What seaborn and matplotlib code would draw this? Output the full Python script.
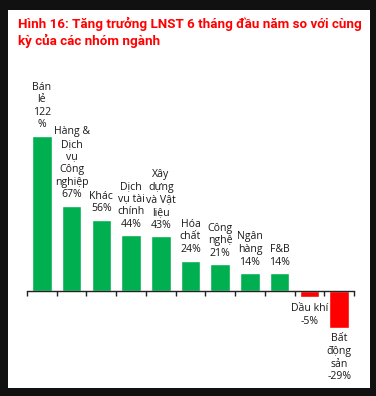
import matplotlib
matplotlib.use("Agg")
import matplotlib.pyplot as plt
import seaborn as sns
import numpy as np
import pandas as pd
from matplotlib.patches import Rectangle

categories = ["Bán lẻ", "Hàng & Dịch vụ Công nghiệp", "Khác", "Dịch vụ tài chính",
              "Xây dựng và Vật liệu", "Hóa chất", "Công nghệ", "Ngân hàng", "F&B",
              "Dầu khí", "Bất động sản"]
values = [122, 67, 56, 44, 43, 24, 21, 14, 14, -5, -29]
labels = ["Bán\nlẻ\n122\n%", "Hàng &\nDịch\nvụ\nCông\nnghiệp\n67%", "Khác\n56%",
          "Dịch\nvụ tài\nchính\n44%", "Xây\ndựng\nvà Vật\nliệu\n43%", "Hóa\nchất\n24%",
          "Công\nnghệ\n21%", "Ngân\nhàng\n14%", "F&B\n14%", "Dầu khí\n-5%",
          "Bất\nđộng\nsản\n-29%"]
title = "Hình 16: Tăng trưởng LNST 6 tháng đầu năm so với cùng\nkỳ của các nhóm ngành"

GREEN = "#00B050"
RED = "#FF0000"
colors = [GREEN if v >= 0 else RED for v in values]

df = pd.DataFrame({"cat": categories, "val": values})

sns.set_theme(style="white")
plt.rcParams['font.family'] = ['Open Sans', 'DejaVu Sans']

W, H = 376, 396
fig = plt.figure(figsize=(W / 100, H / 100), dpi=100, facecolor="#111111")
fig.patches.append(Rectangle((8 / W, 1 - 388 / H), (370 - 8) / W, (388 - 10) / H,
                             transform=fig.transFigure, facecolor="white",
                             edgecolor="none", zorder=-5))

ax_top, ax_bot = 80, 380
ax = fig.add_axes([27 / W, 1 - ax_bot / H, (354 - 27) / W, (ax_bot - ax_top) / H])
ax.set_facecolor("none")
ax.set_zorder(2)

sns.barplot(data=df, x="cat", y="val", hue="cat", palette=colors, legend=False,
            width=0.66, ax=ax, saturation=1)

ax.set_ylim(-70, 166)
ax.set_xlim(-0.5, len(categories) - 0.5)
for s in ["left", "right", "top"]:
    ax.spines[s].set_visible(False)
ax.spines["bottom"].set_position(("data", 0))
ax.spines["bottom"].set_color("#222222")
ax.spines["bottom"].set_linewidth(1.0)
ax.set_yticks([])
ax.set_xticks(np.arange(-0.5, len(categories), 1.0))
ax.set_xticklabels([])
ax.tick_params(axis="x", direction="out", length=3.5, width=1.0, color="#222222", bottom=True)
ax.set_xlabel("")
ax.set_ylabel("")

for i, (v, lab) in enumerate(zip(values, labels)):
    if v >= 0:
        ax.annotate(lab, (i, v), xytext=(0, 4), textcoords="offset points",
                    ha="center", va="bottom", fontsize=7.6, color="#1a1a1a",
                    linespacing=1.2)
    else:
        ax.annotate(lab, (i, v), xytext=(0, -4), textcoords="offset points",
                    ha="center", va="top", fontsize=7.6, color="#1a1a1a",
                    linespacing=1.2)

fig.text(18 / W, 1 - 17 / H, title, ha="left", va="top", fontsize=9.6,
         fontweight="bold", color=RED, linespacing=1.2,
         family=['Roboto', 'DejaVu Sans'])

fig.savefig("out.png", dpi=100, facecolor=fig.get_facecolor())
